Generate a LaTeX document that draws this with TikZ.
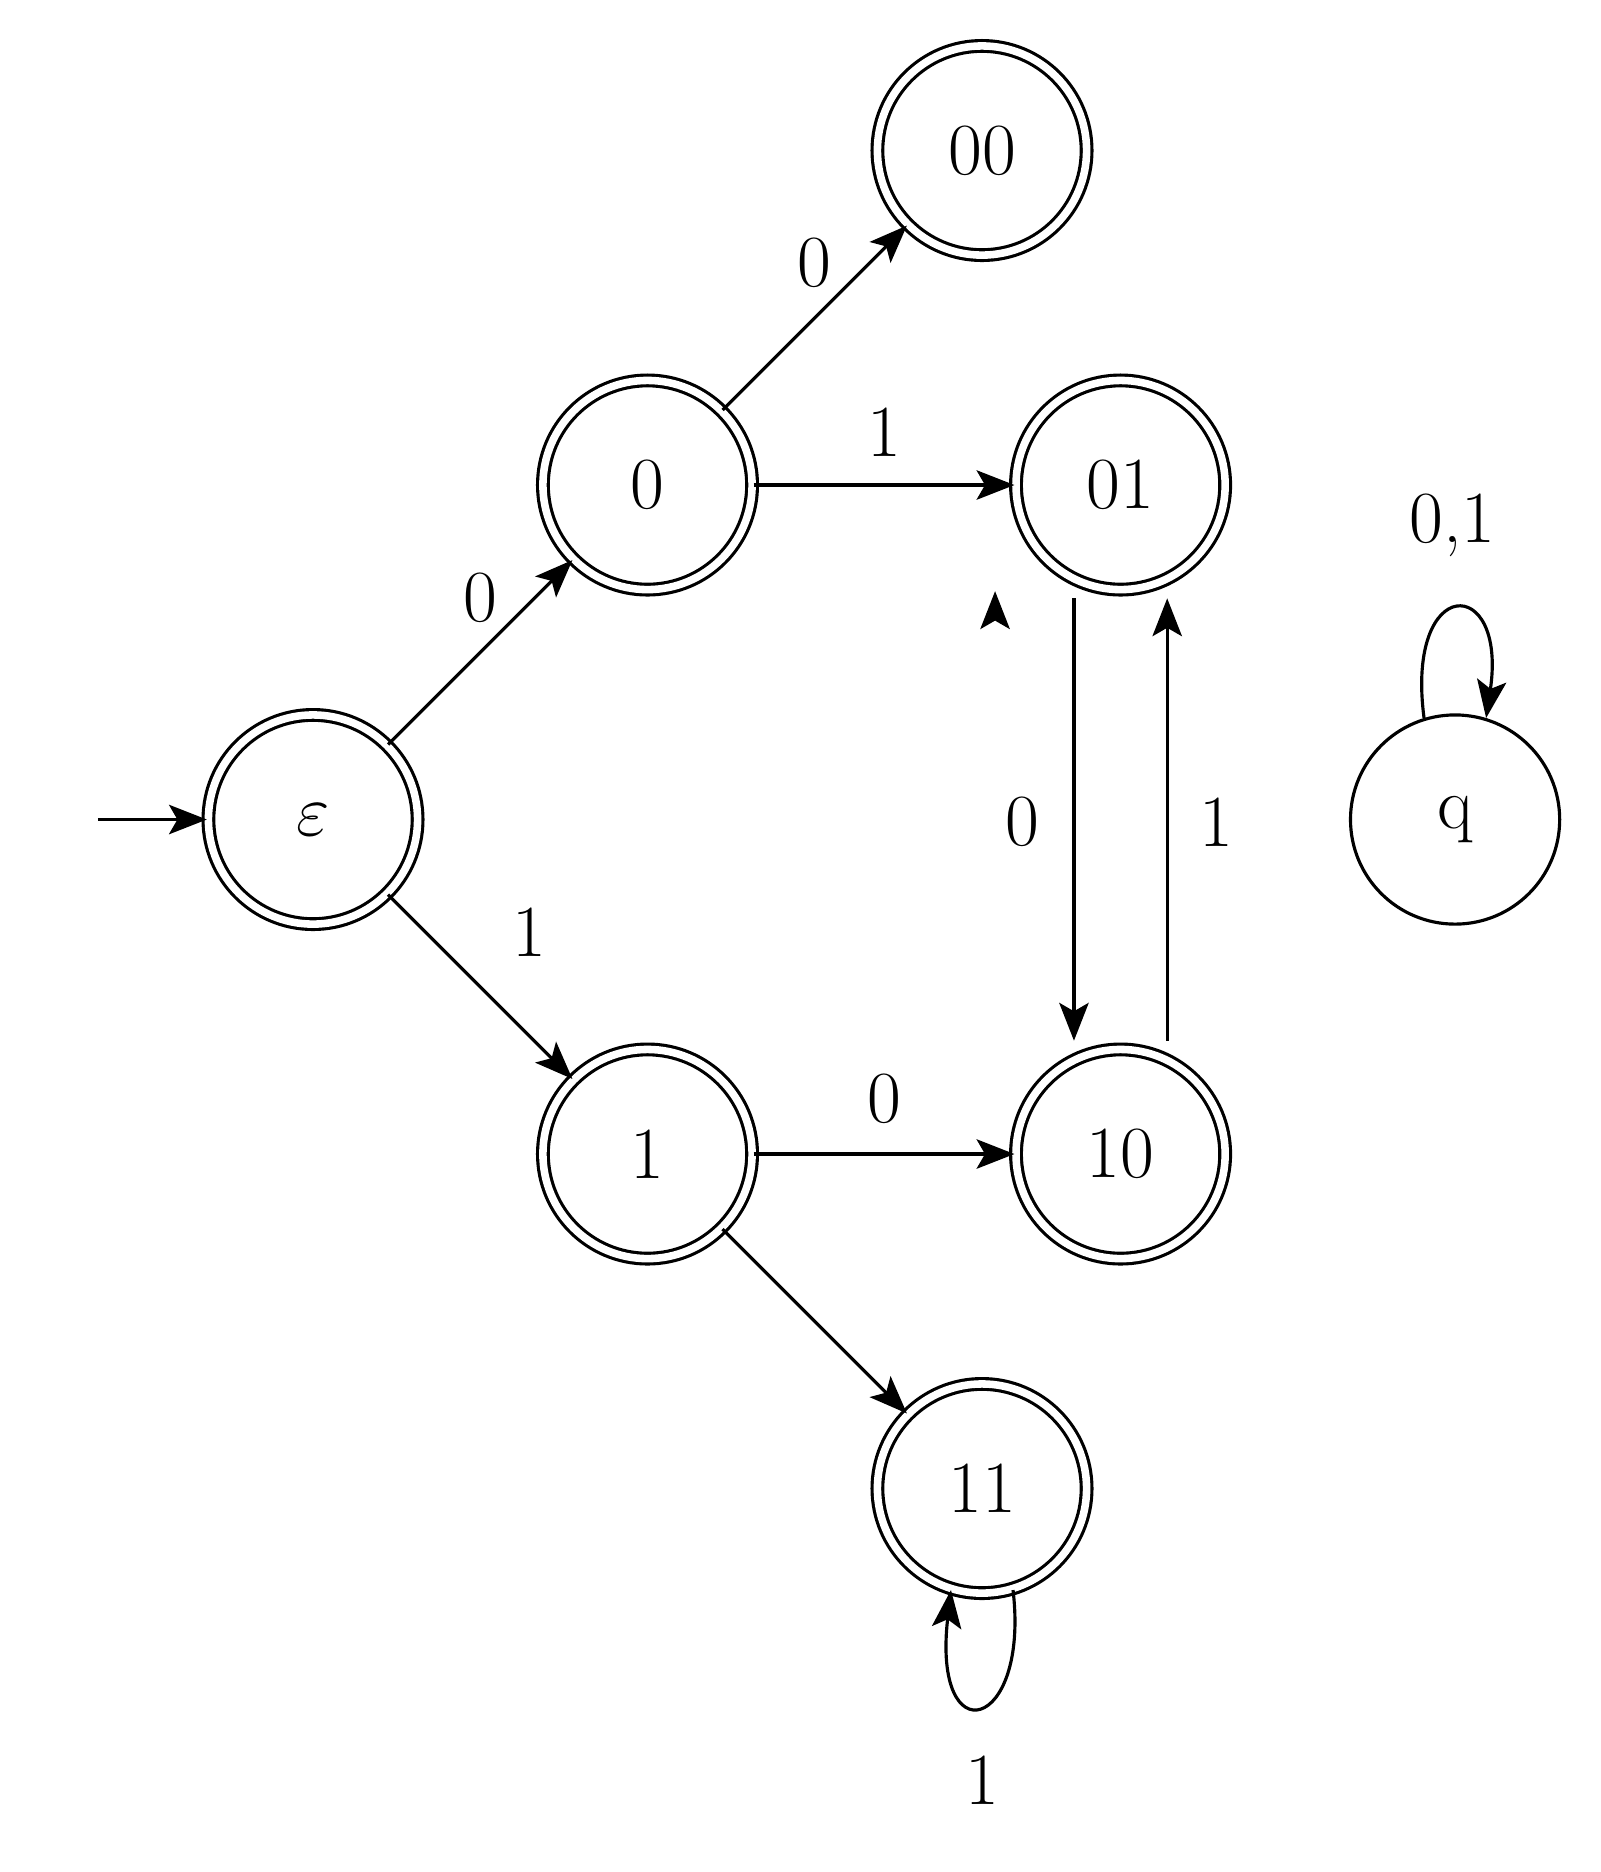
\documentclass[tikz,border=0pt]{standalone}
\usetikzlibrary{arrows.meta}
\begin{document}
\begin{tikzpicture}[x=0.01cm,y=-0.01cm,
  >={Stealth[length=9pt,width=7pt,inset=2pt]},
  every path/.style={line width=0.75pt},
  acc/.style={circle,draw,double,double distance=1.8pt,minimum size=1.75cm,inner sep=0pt,font=\fontsize{17.5}{21}\selectfont},
  st/.style={circle,draw,minimum size=1.75cm,inner sep=0pt,font=\fontsize{17.5}{21}\selectfont},
  lab/.style={font=\fontsize{17.5}{21}\selectfont}]
\useasboundingbox (0,0) rectangle (1340,1567);
\node[acc] (e) at (262,686) {$\varepsilon$};
\node[acc] (n0) at (542,406) {0};
\node[acc] (n1) at (542,966) {1};
\node[acc] (n00) at (822,126) {00};
\node[acc] (n01) at (938,406) {01};
\node[acc] (n10) at (938,966) {10};
\node[acc] (n11) at (822,1246) {11};
\node[st] (q) at (1218,686) {q};
\coordinate (init) at (82,686);
\draw[->] (init) -- (e);
\draw[->] (e) -- (n0);
\draw[->] (e) -- (n1);
\draw[->] (n0) -- (n00);
\draw[->] (n0) -- (n01);
\draw[->] (n1) -- (n10);
\draw[->] (n1) -- (n11);
\draw[->] ([xshift=-1.05cm]n01.south -| n01.center) ++(0,0) coordinate (a1);
\coordinate (a) at ([xshift=-0.39cm]n01.south);
\coordinate (b) at ([xshift=-0.39cm]n10.north);
\coordinate (c) at ([xshift=0.39cm]n10.north);
\coordinate (d) at ([xshift=0.39cm]n01.south);
\draw[->] ([yshift=-0.06cm]a) -- ([yshift=0.06cm]b);
\draw[->] ([yshift=0.06cm]c) -- ([yshift=-0.06cm]d);
\draw[->] (n11.-73) .. controls (862,1450) and (780,1470) .. (n11.-107);
\draw[->] (q.107) .. controls (1176,480) and (1262,480) .. (q.73);
\node[lab] (l1) at (682,220) {0};
\node[lab] (l2) at (740,362) {1};
\node[lab] (l3) at (402,500) {0};
\node[lab] (l4) at (443,780) {1};
\node[lab] (l5) at (740,920) {0};
\node[lab] (l6) at (856,688) {0};
\node[lab] (l7) at (1018,688) {1};
\node[lab] (l8) at (1216,440) {0,1};
\node[lab] (l9) at (822,1490) {1};
\end{tikzpicture}
\end{document}
